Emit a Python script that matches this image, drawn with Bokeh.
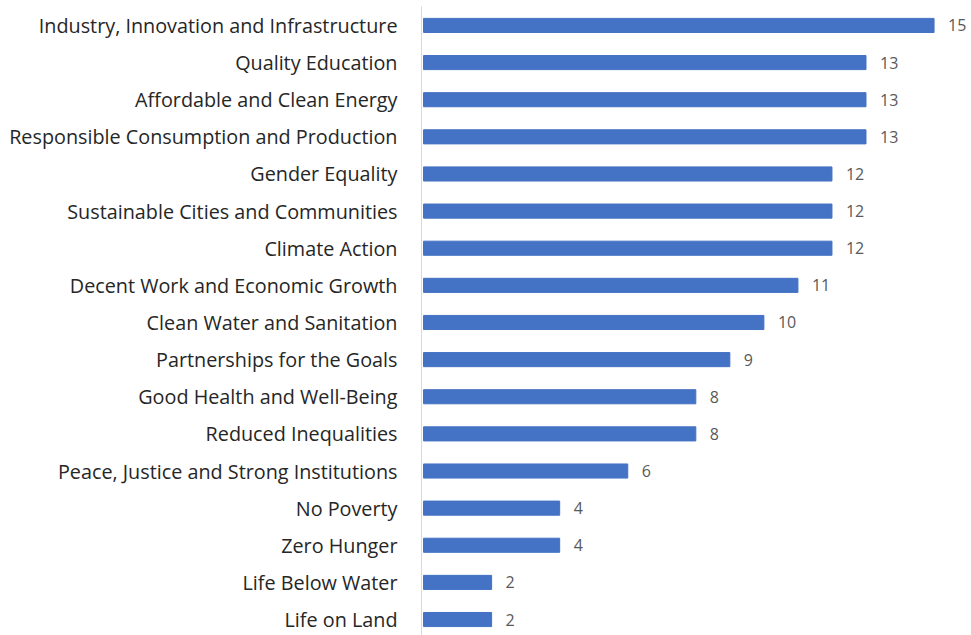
from bokeh.plotting import figure
from bokeh.models import Range1d, FixedTicker, ColumnDataSource, LabelSet
from bokeh.core.properties import value
from bokeh.embed import file_html
from bokeh.resources import INLINE

categories = [
    "Industry, Innovation and Infrastructure",
    "Quality Education",
    "Affordable and Clean Energy",
    "Responsible Consumption and Production",
    "Gender Equality",
    "Sustainable Cities and Communities",
    "Climate Action",
    "Decent Work and Economic Growth",
    "Clean Water and Sanitation",
    "Partnerships for the Goals",
    "Good Health and Well-Being",
    "Reduced Inequalities",
    "Peace, Justice and Strong Institutions",
    "No Poverty",
    "Zero Hunger",
    "Life Below Water",
    "Life on Land",
]
counts = [15, 13, 13, 13, 12, 12, 12, 11, 10, 9, 8, 8, 6, 4, 4, 2, 2]

pos = list(range(len(categories)))
src = ColumnDataSource(dict(y=pos, v=counts, txt=[str(c) for c in counts]))

p = figure(width=971, height=635, output_backend="svg", toolbar_location=None,
           x_range=Range1d(-0.06, 16.1), y_range=Range1d(16.43, -0.51),
           min_border_left=421, min_border_right=0, min_border_top=6, min_border_bottom=0)
p.hbar(y="y", right="v", left=0, height=0.38, source=src, color="#4472C4")
p.add_layout(LabelSet(x="v", y="y", text="txt", source=src, x_offset=14,
                      text_baseline="middle", text_font_size="16px",
                      text_font=value("Open Sans"), text_color="#595959"))
p.xaxis.visible = False
p.xgrid.visible = False
p.ygrid.visible = False
p.outline_line_color = None
p.background_fill_color = "white"
p.border_fill_color = "white"
ya = p.yaxis[0]
ya.ticker = FixedTicker(ticks=pos)
ya.major_label_overrides = {i: c for i, c in enumerate(categories)}
ya.major_tick_line_color = None
ya.minor_tick_line_color = None
ya.axis_line_color = "#D9D9D9"
ya.axis_line_width = 1
ya.major_label_standoff = 18
ya.major_label_text_font = "Open Sans"
ya.major_label_text_font_size = "19.8px"
ya.major_label_text_color = "#262626"

open("out.html", "w").write(file_html(p, INLINE))
